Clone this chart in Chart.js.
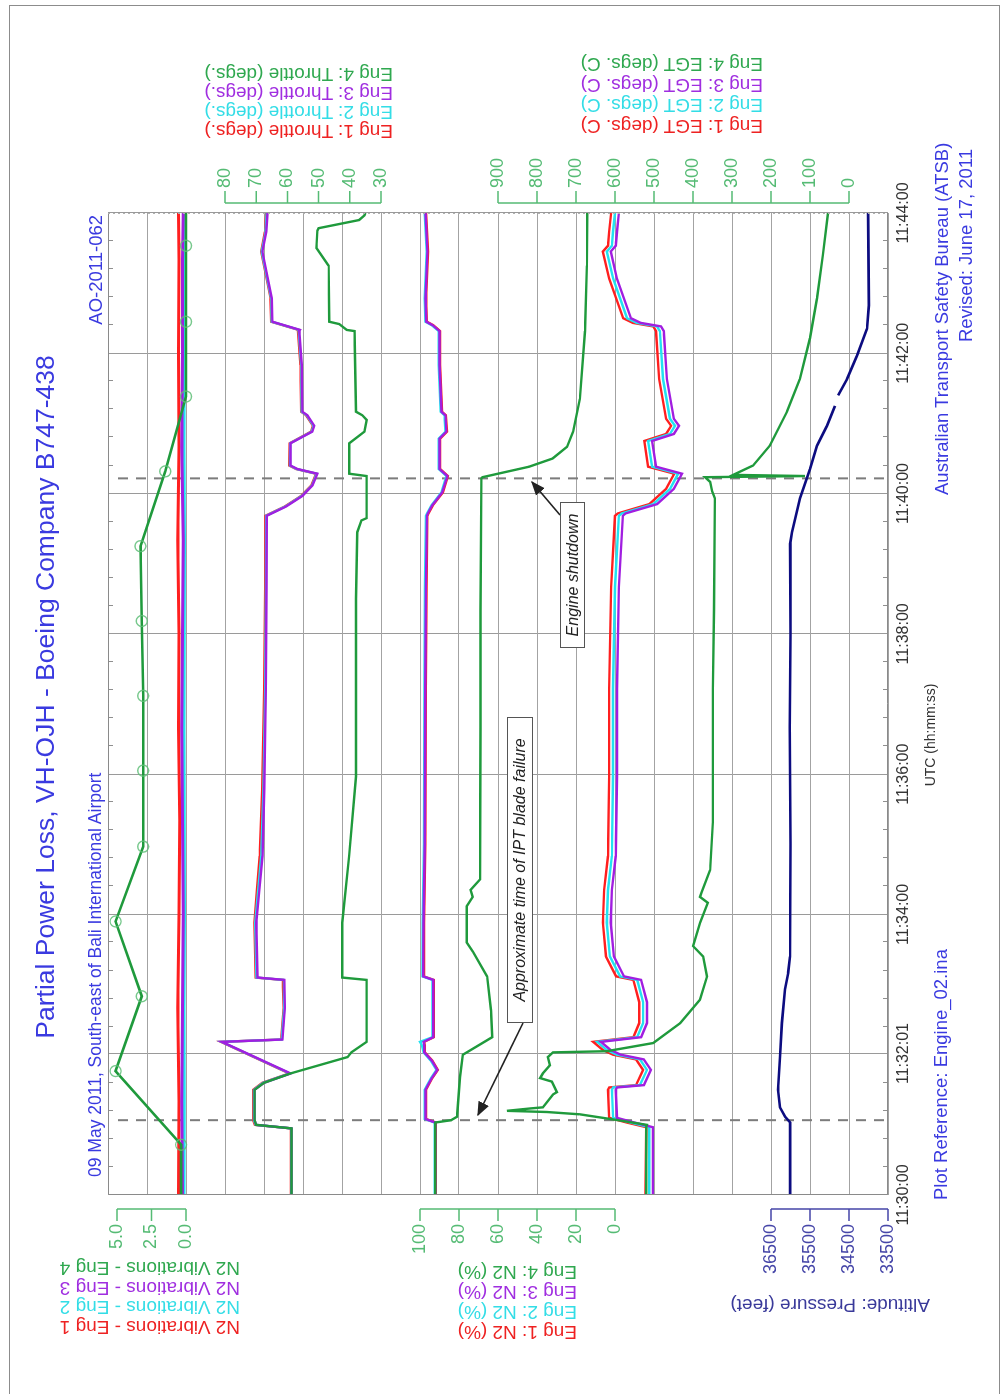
<!DOCTYPE html>
<html>
<head>
<meta charset="utf-8">
<title>Partial Power Loss, VH-OJH</title>
<script src="https://cdn.jsdelivr.net/npm/chart.js@4.4.1/dist/chart.umd.min.js"></script>
<style>
  html, body { margin: 0; padding: 0; background: #fff; }
  body { width: 1002px; height: 1394px; position: relative; overflow: hidden;
         font-family: "Liberation Sans", Arial, Helvetica, sans-serif; }
  #frame { position: absolute; left: 9px; top: 5px; width: 991px; height: 1400px;
           border: 1px solid #8c8c8c; box-sizing: border-box; }
  /* landscape sheet turned a quarter turn counter-clockwise */
  #sheet { position: absolute; left: 0; top: 0; width: 1394px; height: 1002px;
           transform-origin: 0 0; transform: translate(0, 1394px) rotate(-90deg); }
  #sheet canvas { position: absolute; left: 0; top: 0; }
  #sheet svg { position: absolute; left: 0; top: 0; }
  .t { position: absolute; white-space: nowrap; line-height: 1; }
  .blue { color: #3a3ae0; }
  .note { position: absolute; box-sizing: border-box; border: 1px solid #555; background: #fff;
          font-style: italic; font-size: 16px; color: #222; text-align: center; white-space: nowrap; }
  .flip { position: absolute; transform: rotate(180deg); white-space: nowrap; font-size: 19px; }
</style>
</head>
<body>
<div id="frame"></div>

<div id="sheet">
  <canvas id="c" width="1394" height="1002"></canvas>
  <svg width="1394" height="1002" viewBox="0 0 1394 1002">
    <defs>
      <marker id="ah" viewBox="0 0 10 10" refX="9" refY="5" markerWidth="9" markerHeight="9" orient="auto">
        <path d="M0,1 L10,5 L0,9 z" fill="#222"/>
      </marker>
    </defs>
    <line x1="371" y1="523" x2="279" y2="478" stroke="#222" stroke-width="1.6" marker-end="url(#ah)"/>
    <line x1="879" y1="560" x2="912" y2="532" stroke="#222" stroke-width="1.6" marker-end="url(#ah)"/>
  </svg>

  <div class="t blue" style="left:0;width:1394px;top:32px;text-align:center;font-size:26.5px;">Partial Power Loss, VH-OJH - Boeing Company B747-438</div>
  <div class="t blue" style="left:217px;top:87px;font-size:17.5px;">09 May 2011, South-east of Bali International Airport</div>
  <div class="t blue" style="right:215px;top:87px;font-size:18.5px;">AO-2011-062</div>

  <div class="t" style="left:559px;width:200px;top:923px;text-align:center;font-size:14px;color:#333;">UTC (hh:mm:ss)</div>
  <div class="t blue" style="left:194px;top:932px;font-size:18.5px;">Plot Reference: Engine_02.ina</div>
  <div class="t blue" style="left:899px;top:933px;font-size:18.5px;">Australian Transport Safety Bureau (ATSB)</div>
  <div class="t blue" style="right:149px;top:957px;font-size:18.5px;">Revised: June 17, 2011</div>

  <div class="note" style="left:371px;top:507px;width:306px;height:26px;line-height:24px;">Approximate time of IPT blade failure</div>
  <div class="note" style="left:746px;top:560px;width:146px;height:25px;line-height:23px;">Engine shutdown</div>
</div>

<!-- series titles, printed upside down along the long edges -->
<div class="flip" style="left:30px;top:1258px;width:210px;line-height:19.7px;">
  <div style="color:#ee2222">N2 Vibrations - Eng 1</div>
  <div style="color:#33dde6">N2 Vibrations - Eng 2</div>
  <div style="color:#a02ee0">N2 Vibrations - Eng 3</div>
  <div style="color:#2fa84f">N2 Vibrations - Eng 4</div>
</div>
<div class="flip" style="left:417px;top:1262px;width:160px;line-height:20px;">
  <div style="color:#ee2222">Eng 1: N2 (%)</div>
  <div style="color:#33dde6">Eng 2: N2 (%)</div>
  <div style="color:#a02ee0">Eng 3: N2 (%)</div>
  <div style="color:#2fa84f">Eng 4: N2 (%)</div>
</div>
<div class="flip" style="left:690px;top:1295px;width:240px;line-height:20px;color:#3a3a9a;">Altitude: Pressure (feet)</div>
<div class="flip" style="left:173px;top:65px;width:220px;line-height:19px;">
  <div style="color:#ee2222">Eng 1: Throttle (degs.)</div>
  <div style="color:#33dde6">Eng 2: Throttle (degs.)</div>
  <div style="color:#a02ee0">Eng 3: Throttle (degs.)</div>
  <div style="color:#2fa84f">Eng 4: Throttle (degs.)</div>
</div>
<div class="flip" style="left:543px;top:53px;width:220px;line-height:20.7px;">
  <div style="color:#ee2222">Eng 1: EGT (degs. C)</div>
  <div style="color:#33dde6">Eng 2: EGT (degs. C)</div>
  <div style="color:#a02ee0">Eng 3: EGT (degs. C)</div>
  <div style="color:#2fa84f">Eng 4: EGT (degs. C)</div>
</div>

<script>
// ---- time axis (seconds after 11:30:00 UTC) ----
const timeTickSeconds = [0, 121, 240, 360, 480, 600, 720, 840];
const timeTickLabels = ['11:30:00', '11:32:01', '11:34:00', '11:36:00', '11:38:00', '11:40:00', '11:42:00', '11:44:00'];
const eventSeconds = [64, 613];   // IPT blade failure, engine shutdown

// ---- value axis ticks ----
const vibTicks = [5.0, 2.5, 0.0];
const thrTicks = [80, 70, 60, 50, 40, 30];
const n2Ticks = [100, 80, 60, 40, 20, 0];
const egtTicks = [900, 800, 700, 600, 500, 400, 300, 200, 100, 0];
const altTicks = [36500, 35500, 34500, 33500];

// ---- N2 vibrations ----
const vibT = [0, 80, 160, 240, 320, 400, 480, 560, 640, 720, 800, 840];
const vibEng1 = [0.55, 0.5, 0.6, 0.5, 0.45, 0.55, 0.5, 0.6, 0.5, 0.55, 0.5, 0.55];
const vibEng2 = [0.15, 0.12, 0.15, 0.1, 0.12, 0.15, 0.12, 0.1, 0.15, 0.12, 0.1, 0.12];
const vibEng3 = [0.25, 0.3, 0.25, 0.2, 0.25, 0.3, 0.25, 0.2, 0.3, 0.25, 0.25, 0.2];
const vibEng4T = [0, 43, 106, 170, 234, 298, 363, 427, 491, 555, 619, 683, 747, 812, 840];
const vibEng4 = [0.35, 0.35, 5.1, 3.2, 5.1, 3.1, 3.1, 3.1, 3.2, 3.3, 1.5, 0.0, 0.0, 0.0, 0.0];

// ---- throttle (degs.) ----
const thrT = [0, 57, 60, 64, 90, 96, 104, 131, 133, 160, 184, 186, 233, 261, 290, 347, 433, 520, 581, 589,
              598, 607, 617, 621, 624, 643, 653, 658, 667, 670, 710, 739, 740, 747, 767, 807, 824, 840];
const thrEng1 = [58.9, 58.9, 70.4, 71.0, 71.0, 68.0, 59.4, 81.3, 62.0, 61.2, 61.5, 70.2, 70.6, 69.8, 68.9, 68.1, 67.4, 67.1, 67.0, 60.8,
                 55.6, 52.3, 50.8, 57.2, 59.4, 59.3, 52.4, 51.8, 54.0, 55.6, 55.8, 56.6, 56.4, 65.2, 65.4, 68.4, 67.2, 66.8];
const thrEng2 = [58.8, 58.8, 70.2, 70.7, 70.7, 67.8, 59.2, 81.1, 61.8, 61.0, 61.2, 69.9, 70.3, 69.4, 68.4, 67.7, 67.1, 66.9, 66.8, 60.6,
                 55.4, 52.1, 50.6, 57.0, 59.2, 59.1, 52.2, 51.6, 53.8, 55.4, 55.6, 56.4, 56.2, 65.0, 65.2, 68.2, 67.0, 66.6];
const thrEng3 = [58.7, 58.7, 70.0, 70.5, 70.5, 67.5, 59.0, 81.0, 61.6, 60.8, 61.0, 69.6, 70.0, 69.0, 68.0, 67.4, 66.9, 66.7, 66.6, 60.4,
                 55.2, 52.0, 50.4, 56.8, 59.0, 59.0, 52.0, 51.4, 53.6, 55.2, 55.4, 56.2, 56.0, 64.8, 65.0, 68.0, 66.8, 66.4];
const thrEng4T = [0, 57, 60, 64, 90, 96, 104, 118, 122, 131, 184, 186, 233, 290, 358, 433, 510, 567, 577, 579,
                  615, 617, 621, 643, 653, 663, 667, 670, 739, 740, 745, 747, 795, 810, 825, 827, 834, 838, 840];
const thrEng4 = [58.7, 58.7, 70.0, 70.5, 70.5, 67.5, 59.0, 40.7, 39.5, 34.6, 34.6, 42.4, 42.4, 40.2, 38.0, 38.0, 38.0, 37.6, 36.3, 34.6,
                 34.6, 40.2, 40.2, 40.2, 35.3, 34.6, 36.0, 38.0, 38.5, 41.0, 43.4, 46.6, 46.8, 50.7, 50.4, 50.0, 37.0, 35.3, 35.0];

// ---- N2 (%) ----
const n2T = [0, 62, 65, 90, 100, 107, 115, 122, 128, 131, 135, 184, 187, 233, 300, 433, 520, 581, 583, 590,
             601, 615, 621, 647, 653, 667, 670, 710, 739, 744, 747, 767, 807, 840];
const n2Eng1 = [91.9, 91.9, 96.9, 96.9, 93.7, 90.8, 93.7, 97.5, 97.5, 97.9, 92.9, 92.9, 98.1, 97.9, 97.3, 97.0, 96.7, 96.2, 95.7, 93.4,
                88.3, 85.7, 89.7, 89.7, 86.2, 86.7, 88.7, 89.7, 89.7, 93.2, 96.5, 96.9, 95.9, 96.9];
const n2Eng2 = [92.5, 92.5, 97.6, 97.6, 94.4, 91.5, 94.5, 98.2, 99.0, 100.0, 93.6, 93.6, 98.8, 98.6, 98.0, 97.7, 97.4, 96.9, 96.4, 94.1,
                89.0, 86.4, 90.4, 90.4, 86.9, 87.4, 89.4, 90.4, 90.4, 93.9, 97.2, 97.6, 96.6, 97.6];
const n2Eng3 = [92.2, 92.2, 97.2, 97.2, 94.0, 91.1, 94.0, 97.8, 97.8, 98.2, 93.2, 93.2, 98.4, 98.2, 97.6, 97.3, 97.0, 96.5, 96.0, 93.7,
                88.6, 86.0, 90.0, 90.0, 86.5, 87.0, 89.0, 90.0, 90.0, 93.5, 96.8, 97.2, 96.2, 97.2];
const n2Eng4T = [0, 62, 64, 67, 101, 120, 135, 158, 187, 208, 216, 247, 255, 261, 270, 400, 500, 613, 614, 617,
                 623, 630, 640, 653, 681, 739, 795, 840];
const n2Eng4 = [92.2, 92.2, 84.0, 81.0, 79.5, 78.0, 63.0, 63.6, 65.6, 72.8, 76.0, 76.0, 73.0, 74.0, 69.2, 69.0, 69.0, 68.5, 68.0, 60.0,
                44.0, 32.0, 24.6, 21.5, 18.0, 15.4, 14.4, 14.2];

// ---- EGT (degs. C) ----
const egtT = [0, 58, 62, 66, 90, 92, 94, 107, 116, 120, 124, 131, 135, 147, 165, 184, 187, 204, 233, 261,
              290, 358, 433, 520, 581, 583, 591, 604, 617, 623, 645, 651, 658, 664, 698, 739, 743, 746, 750, 784,
              807, 812, 824, 840];
const egtEng1 = [522, 520, 570, 615, 618, 615, 546, 528, 546, 605, 631, 656, 553, 538, 538, 553, 597, 623, 631, 628,
                 618, 615, 615, 610, 600, 593, 512, 469, 448, 515, 525, 469, 456, 469, 487, 495, 502, 554, 579, 615,
                 631, 618, 615, 610];
const egtEng2 = [512, 512, 560, 605, 608, 605, 536, 518, 536, 595, 621, 646, 543, 528, 528, 543, 587, 613, 621, 618,
                 608, 605, 605, 600, 590, 583, 502, 459, 438, 505, 515, 459, 446, 459, 477, 485, 492, 544, 569, 605,
                 621, 608, 605, 600];
const egtEng3 = [503, 503, 550, 595, 598, 595, 526, 508, 526, 585, 611, 636, 533, 518, 518, 533, 577, 603, 611, 608,
                 598, 595, 595, 590, 580, 573, 492, 449, 428, 495, 505, 449, 436, 449, 467, 475, 482, 534, 559, 595,
                 611, 598, 595, 590];
const egtEng4T = [0, 58, 60, 64, 69, 71, 72, 74, 75, 86, 88, 97, 100, 104, 111, 118, 122, 123, 130, 147,
                  167, 187, 204, 213, 233, 250, 255, 259, 278, 319, 375, 433, 500, 596, 602, 610, 614, 615, 616, 624,
                  641, 670, 698, 733, 767, 804, 840];
const egtEng4 = [520, 520, 518, 592, 690, 775, 877, 818, 785, 759, 749, 762, 792, 785, 767, 772, 759, 621, 502, 433,
                 382, 364, 374, 400, 382, 362, 382, 378, 356, 349, 349, 349, 346, 344, 351, 356, 369, 113, 297, 246,
                 203, 159, 126, 100, 82, 67, 54];

// ---- pressure altitude (feet) ----
const altT = [0, 62, 67, 75, 90, 118, 147, 176, 190, 204, 300, 400, 480, 557, 567, 596, 621, 641, 658, 675,
              679, 684, 698, 718, 741, 761, 840];
const altFt = [36010, 36010, 36140, 36270, 36320, 36270, 36220, 36140, 36060, 36013, 36000, 36020, 36000, 36010, 35960, 35755, 35500, 35320, 35065, 34860,
               null, 34780, 34550, 34295, 34040, 33990, 34010];

// ---------------------------------------------------------------
const FONT = '"Liberation Sans", Arial, Helvetica, sans-serif';
const RED = '#ff1f1f', CYAN = '#22e2f0', PURPLE = '#a11ee0', GREEN = '#1f9a3c', NAVY = '#0c0c80';
const AXIS_GREEN = '#55bb74', AXIS_BLUE = '#4646a8';
const GRID_ROWS = 20;   // horizontal grid divides the plot height into 20 equal bands
const TIME_LABEL_BAND = 30;

// each value axis occupies its own band: value v1 on grid row r1, v2 on row r2
function band(v1, r1, v2, r2) {
  const per = (v2 - v1) / (r2 - r1);
  return { type: 'linear', display: false, min: v1 + (GRID_ROWS - r1) * per, max: v1 - r1 * per };
}

const pts = (t, v) => t.map((x, i) => ({ x, y: v[i] }));
function series(label, axis, t, v, color, order, extra) {
  return Object.assign({
    label, yAxisID: axis, data: pts(t, v), borderColor: color, backgroundColor: color,
    borderWidth: 2.4, pointRadius: 0, tension: 0, order, spanGaps: false
  }, extra || {});
}

const valueAxes = [
  { id: 'vib', side: 'left', ticks: vibTicks, fmt: v => v.toFixed(1), color: AXIS_GREEN },
  { id: 'n2', side: 'left', ticks: n2Ticks, fmt: v => String(v), color: AXIS_GREEN },
  { id: 'alt', side: 'left', ticks: altTicks, fmt: v => String(v), color: AXIS_BLUE },
  { id: 'thr', side: 'right', ticks: thrTicks, fmt: v => String(v), color: AXIS_GREEN },
  { id: 'egt', side: 'right', ticks: egtTicks, fmt: v => String(v), color: AXIS_GREEN }
];

const minorTickSeconds = [];
for (let s = 24; s < 840; s += 24) if (s % 120 !== 0) minorTickSeconds.push(s);

const decor = {
  id: 'decor',
  beforeDatasetsDraw(chart) {
    const { ctx, chartArea: a, scales } = chart;
    ctx.save();
    ctx.strokeStyle = '#8f8f8f';
    ctx.lineWidth = 1;
    ctx.beginPath();
    for (const s of minorTickSeconds) {
      const x = Math.round(scales.x.getPixelForValue(s)) + 0.5;
      ctx.moveTo(x, a.top); ctx.lineTo(x, a.top + 5);
      ctx.moveTo(x, a.bottom); ctx.lineTo(x, a.bottom - 5);
    }
    ctx.stroke();
    ctx.setLineDash([10, 8]);
    ctx.strokeStyle = '#7c7c7c';
    ctx.lineWidth = 2;
    for (const s of eventSeconds) {
      const x = scales.x.getPixelForValue(s);
      ctx.beginPath(); ctx.moveTo(x, a.top + 10); ctx.lineTo(x, a.bottom); ctx.stroke();
    }
    ctx.restore();
  },
  afterDraw(chart) {
    const { ctx, chartArea: a } = chart;
    ctx.save();
    // plot frame
    ctx.strokeStyle = '#8a8a8a';
    ctx.lineWidth = 1;
    ctx.beginPath();
    ctx.moveTo(a.right, a.top + 0.5); ctx.lineTo(a.left + 0.5, a.top + 0.5);
    ctx.lineTo(a.left + 0.5, a.bottom - 0.5); ctx.lineTo(a.right, a.bottom - 0.5);
    ctx.stroke();
    ctx.setLineDash([2, 3]);
    ctx.strokeStyle = '#b0b0b0';
    ctx.beginPath(); ctx.moveTo(a.right - 0.5, a.top); ctx.lineTo(a.right - 0.5, a.bottom); ctx.stroke();
    ctx.setLineDash([]);
    // value axes: short bracket with ticks and labels beside the plot
    ctx.font = '18px ' + FONT;
    ctx.textBaseline = 'middle';
    for (const ax of valueAxes) {
      const sc = chart.scales[ax.id];
      const ys = ax.ticks.map(v => sc.getPixelForValue(v));
      const left = ax.side === 'left';
      const x0 = left ? a.left - 14 : a.right + 10;
      const dir = left ? -1 : 1;
      ctx.strokeStyle = ax.color;
      ctx.fillStyle = ax.color;
      ctx.lineWidth = 1.5;
      ctx.beginPath();
      ctx.moveTo(x0, Math.min(...ys)); ctx.lineTo(x0, Math.max(...ys));
      ys.forEach(y => { ctx.moveTo(x0, y); ctx.lineTo(x0 + dir * 12, y); });
      ctx.stroke();
      ctx.textAlign = left ? 'right' : 'left';
      ax.ticks.forEach((v, i) => ctx.fillText(ax.fmt(v), x0 + dir * 15, ys[i]));
    }
    ctx.restore();
  }
};

const ringRadius = ctx => (ctx.dataIndex === 0 || ctx.dataIndex === vibEng4.length - 1) ? 0 : 5.5;

new Chart(document.getElementById('c'), {
  type: 'line',
  data: {
    datasets: [
      series('N2 Vibrations - Eng 1', 'vib', vibT, vibEng1, RED, 3, { borderWidth: 3 }),
      series('N2 Vibrations - Eng 2', 'vib', vibT, vibEng2, CYAN, 2, { borderWidth: 3 }),
      series('N2 Vibrations - Eng 3', 'vib', vibT, vibEng3, PURPLE, 1, { borderWidth: 3 }),
      series('N2 Vibrations - Eng 4', 'vib', vibEng4T, vibEng4, GREEN, 0, {
        borderWidth: 2.6, pointRadius: ringRadius, pointStyle: 'circle',
        pointBorderColor: 'rgba(95,190,120,0.85)', pointBackgroundColor: 'rgba(0,0,0,0)', pointBorderWidth: 1.4
      }),
      series('Eng 1: Throttle (degs.)', 'thr', thrT, thrEng1, RED, 3),
      series('Eng 2: Throttle (degs.)', 'thr', thrT, thrEng2, CYAN, 2),
      series('Eng 3: Throttle (degs.)', 'thr', thrT, thrEng3, PURPLE, 1),
      series('Eng 4: Throttle (degs.)', 'thr', thrEng4T, thrEng4, GREEN, 0),
      series('Eng 1: N2 (%)', 'n2', n2T, n2Eng1, RED, 3),
      series('Eng 2: N2 (%)', 'n2', n2T, n2Eng2, CYAN, 2),
      series('Eng 3: N2 (%)', 'n2', n2T, n2Eng3, PURPLE, 1),
      series('Eng 4: N2 (%)', 'n2', n2Eng4T, n2Eng4, GREEN, 0),
      series('Eng 1: EGT (degs. C)', 'egt', egtT, egtEng1, RED, 3),
      series('Eng 2: EGT (degs. C)', 'egt', egtT, egtEng2, CYAN, 2),
      series('Eng 3: EGT (degs. C)', 'egt', egtT, egtEng3, PURPLE, 1),
      series('Eng 4: EGT (degs. C)', 'egt', egtEng4T, egtEng4, GREEN, 0),
      series('Altitude: Pressure (feet)', 'alt', altT, altFt, NAVY, 0, { borderWidth: 2.6 })
    ]
  },
  options: {
    responsive: false,
    devicePixelRatio: 1,
    animation: false,
    events: [],
    layout: { padding: { left: 199, right: 213, top: 108, bottom: 114 - TIME_LABEL_BAND } },
    plugins: { legend: { display: false }, tooltip: { enabled: false }, title: { display: false } },
    scales: {
      x: {
        type: 'linear', position: 'bottom', min: 0, max: 840,
        afterBuildTicks: s => { s.ticks = timeTickSeconds.map(v => ({ value: v })); },
        afterFit: s => { s.height = TIME_LABEL_BAND; },
        ticks: {
          autoSkip: false, maxRotation: 0, minRotation: 0, padding: 6, color: '#333333',
          font: { family: FONT, size: 16 },
          callback: (v, i) => timeTickLabels[i]
        },
        grid: { color: '#9a9a9a', lineWidth: 1, drawTicks: false },
        border: { display: false }
      },
      rows: {
        type: 'linear', position: 'left', min: 0, max: GRID_ROWS,
        afterBuildTicks: s => { s.ticks = Array.from({ length: GRID_ROWS + 1 }, (_, i) => ({ value: i })); },
        afterFit: s => { s.width = 0; },
        ticks: { display: false },
        grid: { color: '#a3a3a3', lineWidth: 1, drawTicks: false },
        border: { display: false }
      },
      vib: band(0, 2, 5, 0.23),
      thr: band(80, 3, 30, 7),
      n2: band(100, 8, 0, 13),
      egt: band(900, 10, 0, 19),
      alt: band(36500, 17, 33500, 20)
    }
  },
  plugins: [decor]
});
</script>
</body>
</html>
